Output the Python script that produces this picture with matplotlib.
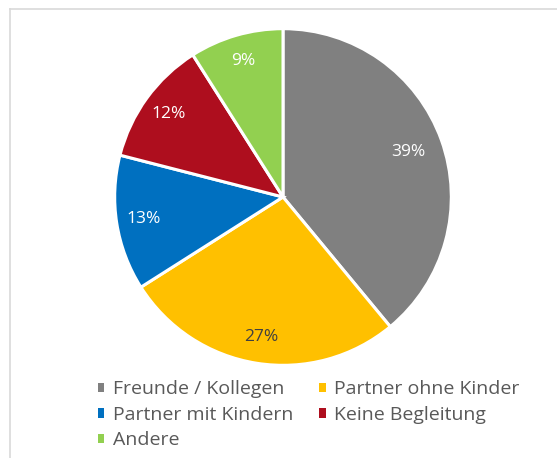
import matplotlib.pyplot as plt
from matplotlib.lines import Line2D
from matplotlib.patches import Patch

# data
labels = ['Freunde / Kollegen', 'Partner ohne Kinder', 'Partner mit Kindern',
          'Keine Begleitung', 'Andere']
shares = [39, 27, 13, 12, 9]
colors = ['#808080', '#FFC000', '#0070C0', '#AE0E1E', '#92D050']
label_colors = ['white', '#404040', 'white', 'white', 'white']

W, H = 557, 458
fig = plt.figure(figsize=(W / 100, H / 100), dpi=100)
plt.rcParams['font.family'] = ['Open Sans', 'DejaVu Sans']

# light frame (left + top only visible)
fig.add_artist(Line2D([10 / W, 10 / W], [0, 1 - 9 / H], color='#d9d9d9', lw=1.2,
                      transform=fig.transFigure))
fig.add_artist(Line2D([10 / W, 1], [1 - 9 / H, 1 - 9 / H], color='#d9d9d9', lw=1.2,
                      transform=fig.transFigure))

cx, cy, r = 283, 197, 170
ax = fig.add_axes([(cx - r) / W, (H - cy - r) / H, 2 * r / W, 2 * r / H])
wedges, texts, autotexts = ax.pie(shares, colors=colors, startangle=90, counterclock=False,
                                  autopct='%d%%', pctdistance=0.84,
                                  wedgeprops=dict(edgecolor='white', linewidth=2.2))
for t, c in zip(autotexts, label_colors):
    t.set_color(c)
    t.set_fontsize(12.5)
# biggest slice label sits a little further in
x0, y0 = autotexts[0].get_position()
autotexts[0].set_position((x0 * 0.79 / 0.84, y0 * 0.79 / 0.84))
ax.set_xlim(-1.01, 1.01)
ax.set_ylim(-1.01, 1.01)
ax.set_aspect('equal')
ax.axis('off')

handles = [Patch(facecolor=c, edgecolor='none') for c in colors]
order = [0, 2, 4, 1, 3]
fig.legend([handles[i] for i in order], [labels[i] for i in order], ncol=2,
           loc='upper left', bbox_to_anchor=(80 / W, 1 - 363 / H), frameon=False,
           fontsize=14, handlelength=0.35, handleheight=0.35, handletextpad=0.45,
           columnspacing=1.3, labelspacing=0.38, labelcolor='#595959')

fig.savefig('out.png', dpi=100)
